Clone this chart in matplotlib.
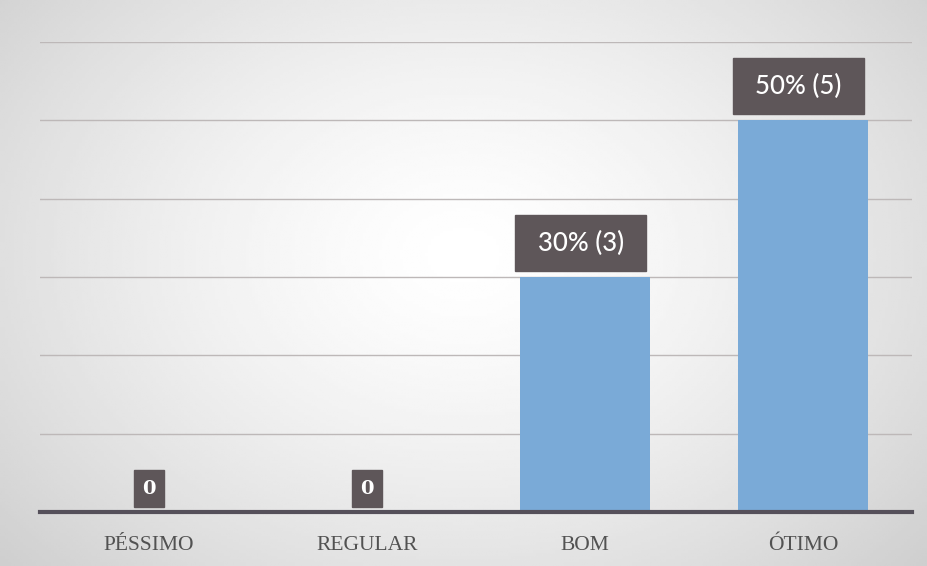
import numpy as np
import matplotlib
matplotlib.use("Agg")
import matplotlib.pyplot as plt
from matplotlib.patches import Rectangle

# ---- data ----
categories = ["PÉSSIMO", "REGULAR", "BOM", "ÓTIMO"]
percentages = [0, 0, 30, 50]
counts = [0, 0, 3, 5]
y_ticks = [10, 20, 30, 40, 50, 60]

BAR_COLOR = "#7aaad7"
BOX_COLOR = "#5e5659"
TEXT_GRAY = "#525252"

fig = plt.figure(figsize=(9.27, 5.66), dpi=100)

# photographed-paper background (vignette)
bg = fig.add_axes([0, 0, 1, 1], zorder=-10)
yy, xx = np.mgrid[0:1:200j, 0:1:300j]
r = np.sqrt(((xx - 0.5) / 0.7) ** 2 + ((yy - 0.45) / 0.85) ** 2)
img = 1.0 - 0.2 * np.clip(r, 0, 1) ** 1.4
bg.imshow(img, cmap="gray", vmin=0, vmax=1, aspect="auto",
          extent=[0, 1, 0, 1], interpolation="bilinear")
bg.set_axis_off()

ax = fig.add_axes([40 / 927, 54 / 566, 872 / 927, 470 / 566])
ax.patch.set_alpha(0)
x = np.arange(len(categories))
bar_w = 0.6
ax.bar(x, percentages, width=bar_w, color=BAR_COLOR, zorder=3)

ax.set_xlim(-0.5, len(categories) - 0.5)
ax.set_ylim(0, 60)
ax.set_yticks(y_ticks)
ax.yaxis.grid(True, color="#bdb8b8", linewidth=1.0, zorder=0)
ax.set_axisbelow(True)
ax.tick_params(axis="y", left=False, labelleft=False)
ax.tick_params(axis="x", bottom=False, pad=14)
ax.set_xticks(x)
ax.set_xticklabels(categories, fontfamily="Liberation Serif", fontsize=15.5,
                   color=TEXT_GRAY)
for s in ["top", "right", "left"]:
    ax.spines[s].set_visible(False)
ax.spines["bottom"].set_color("#55505a")
ax.spines["bottom"].set_linewidth(3)
ax.spines["bottom"].set_zorder(5)

# value label boxes
for xi, p, c in zip(x, percentages, counts):
    if p > 0:
        gap, h = 0.8, 7.1
        ax.add_patch(Rectangle((xi - bar_w / 2 - 0.02, p + gap), bar_w, h,
                               color=BOX_COLOR, zorder=4))
        ax.text(xi - 0.02, p + gap + h / 2, f"{p}% ({c})", ha="center",
                va="center", color="white", fontsize=18.5, family="Lato",
                fontweight="medium", zorder=5)
    else:
        gap, h, w = 0.65, 4.7, 0.142
        ax.add_patch(Rectangle((xi - w / 2, p + gap), w, h,
                               color=BOX_COLOR, zorder=4))
        ax.text(xi, p + gap + h / 2, f"{c}", ha="center", va="center",
                color="white", fontsize=14, family="DejaVu Serif",
                fontweight="bold", zorder=5)

fig.savefig("out.png", dpi=100)
